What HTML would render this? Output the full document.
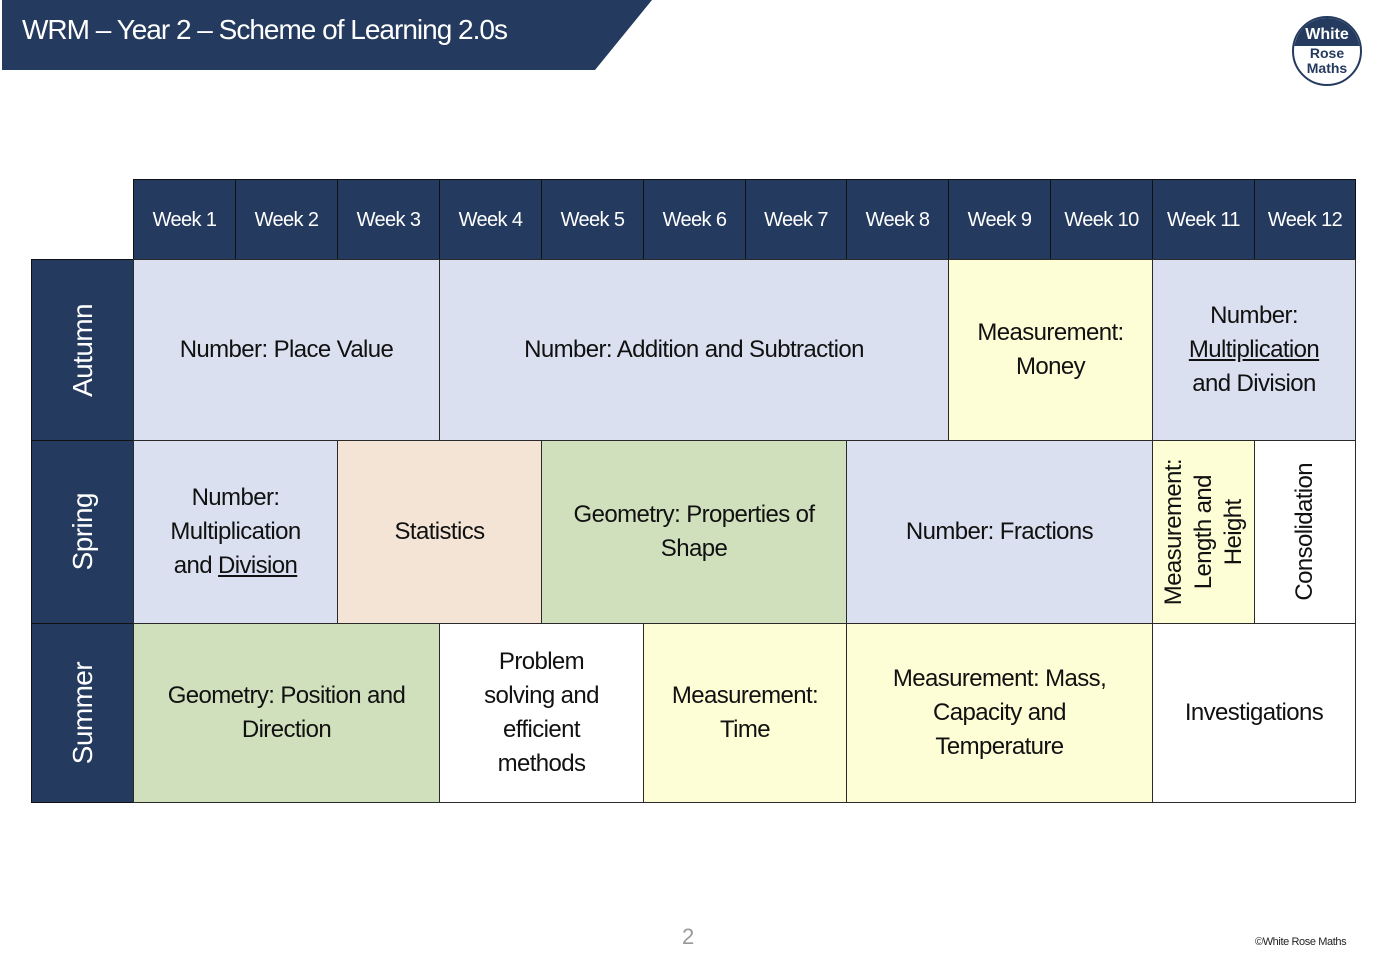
<!DOCTYPE html>
<html><head><meta charset="utf-8"><style>
body{margin:0;width:1382px;height:960px;background:#fff;position:relative;overflow:hidden;font-family:"Liberation Sans",sans-serif}
.c{position:absolute;box-sizing:border-box;border:1.5px solid #2a2a2a;display:flex;align-items:center;justify-content:center;text-align:center;font-size:24px;color:#111;line-height:34px;letter-spacing:-0.6px}
.c>div{display:block}
.h{background:#243a5e;color:#fff;font-size:20px;border-color:#111}
.s{background:#243a5e;color:#fff;font-size:28px;border-color:#111}
.v{writing-mode:vertical-rl;transform:rotate(180deg)}
.b{background:#dae0ef}.y{background:#fdfdd6}.p{background:#f4e4d6}.g{background:#d0e0bd}.w{background:#fff}
</style></head><body>
<svg style="position:absolute;left:0;top:0" width="700" height="72"><polygon points="2,0 652,0 595,70 2,70" fill="#243a5e"/></svg>
<div style="position:absolute;left:22px;top:14px;color:#fff;font-size:28px;letter-spacing:-1px">WRM – Year 2 – Scheme of Learning 2.0s</div>
<div style="position:absolute;left:1292px;top:16px;width:70px;height:70px;border:2px solid #243a5e;border-radius:50%;box-sizing:border-box;overflow:hidden;background:#fff">
<div style="background:#243a5e;height:28px;color:#fff;font-size:16px;font-weight:bold;text-align:center;line-height:34px">White</div>
<div style="color:#243a5e;font-size:14px;font-weight:bold;text-align:center;line-height:15px">Rose<br>Maths</div></div>

<div class="c h" style="left:133px;top:179px;width:103px;height:81px">Week 1</div>
<div class="c h" style="left:235px;top:179px;width:103px;height:81px">Week 2</div>
<div class="c h" style="left:337px;top:179px;width:103px;height:81px">Week 3</div>
<div class="c h" style="left:439px;top:179px;width:103px;height:81px">Week 4</div>
<div class="c h" style="left:541px;top:179px;width:103px;height:81px">Week 5</div>
<div class="c h" style="left:643px;top:179px;width:103px;height:81px">Week 6</div>
<div class="c h" style="left:745px;top:179px;width:102px;height:81px">Week 7</div>
<div class="c h" style="left:846px;top:179px;width:103px;height:81px">Week 8</div>
<div class="c h" style="left:948px;top:179px;width:103px;height:81px">Week 9</div>
<div class="c h" style="left:1050px;top:179px;width:103px;height:81px">Week 10</div>
<div class="c h" style="left:1152px;top:179px;width:103px;height:81px">Week 11</div>
<div class="c h" style="left:1254px;top:179px;width:102px;height:81px">Week 12</div>

<div class="c s" style="left:31px;top:259px;width:103px;height:182px"><div class="v">Autumn</div></div>
<div class="c s" style="left:31px;top:440px;width:103px;height:184px"><div class="v">Spring</div></div>
<div class="c s" style="left:31px;top:623px;width:103px;height:180px"><div class="v">Summer</div></div>

<div class="c b" style="left:133px;top:259px;width:307px;height:182px"><div>Number: Place Value</div></div>
<div class="c b" style="left:439px;top:259px;width:510px;height:182px"><div>Number: Addition and Subtraction</div></div>
<div class="c y" style="left:948px;top:259px;width:205px;height:182px"><div>Measurement:<br>Money</div></div>
<div class="c b" style="left:1152px;top:259px;width:204px;height:182px"><div>Number:<br><u>Multiplication</u><br>and Division</div></div>

<div class="c b" style="left:133px;top:440px;width:205px;height:184px"><div>Number:<br>Multiplication<br>and <u>Division</u></div></div>
<div class="c p" style="left:337px;top:440px;width:205px;height:184px"><div>Statistics</div></div>
<div class="c g" style="left:541px;top:440px;width:306px;height:184px"><div>Geometry: Properties of<br>Shape</div></div>
<div class="c b" style="left:846px;top:440px;width:307px;height:184px"><div>Number: Fractions</div></div>
<div class="c y" style="left:1152px;top:440px;width:103px;height:184px;line-height:30px"><div class="v">Measurement:<br>Length and<br>Height</div></div>
<div class="c w" style="left:1254px;top:440px;width:102px;height:184px"><div class="v">Consolidation</div></div>

<div class="c g" style="left:133px;top:623px;width:307px;height:180px"><div>Geometry: Position and<br>Direction</div></div>
<div class="c w" style="left:439px;top:623px;width:205px;height:180px"><div>Problem<br>solving and<br>efficient<br>methods</div></div>
<div class="c y" style="left:643px;top:623px;width:204px;height:180px"><div>Measurement:<br>Time</div></div>
<div class="c y" style="left:846px;top:623px;width:307px;height:180px"><div>Measurement: Mass,<br>Capacity and<br>Temperature</div></div>
<div class="c w" style="left:1152px;top:623px;width:204px;height:180px"><div>Investigations</div></div>

<div style="position:absolute;left:682px;top:924px;color:#999;font-size:22px">2</div>
<div style="position:absolute;left:1255px;top:936px;color:#222;font-size:11px;letter-spacing:-0.4px">©White Rose Maths</div>
</body></html>
